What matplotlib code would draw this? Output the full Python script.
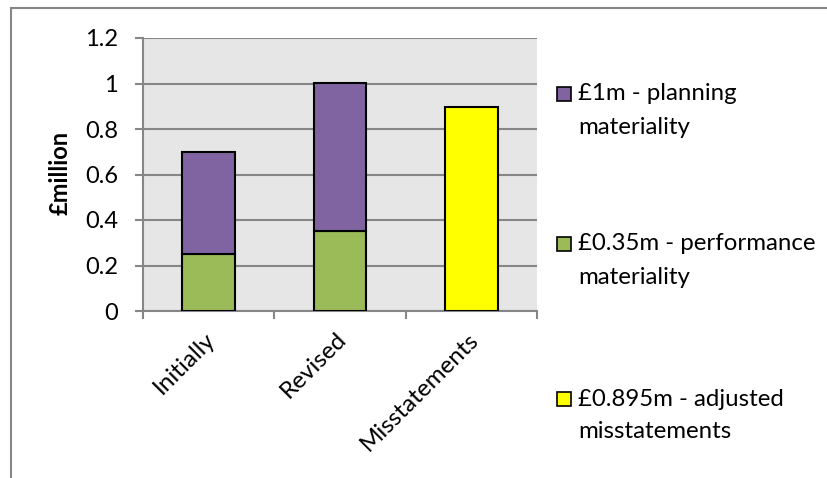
import matplotlib.pyplot as plt
import matplotlib.transforms as mtransforms
from matplotlib.patches import Rectangle
from matplotlib.lines import Line2D

plt.rcParams['font.family'] = ['Lato', 'DejaVu Sans']

# dados
categories = ['Initially', 'Revised', 'Misstatements']
performance = [0.25, 0.35, 0.0]
planning_extra = [0.45, 0.65, 0.0]
misstatements = [0.0, 0.0, 0.895]
legend_labels = ['£1m - planning\nmateriality',
                 '£0.35m - performance\nmateriality',
                 '£0.895m - adjusted\nmisstatements']
yticks = [0, 0.2, 0.4, 0.6, 0.8, 1, 1.2]
ytick_labels = ['0', '0.2', '0.4', '0.6', '0.8', '1', '1.2']

purple = '#8064A2'
green = '#9BBB59'
yellow = '#FFFF00'
grid_c = '#868686'

fig = plt.figure(figsize=(8.27, 4.78), dpi=100)
ax = fig.add_axes([143 / 827, 1 - 311 / 478, (537 - 143) / 827, (311 - 38) / 478])
ax.set_facecolor('#E6E6E6')

x = list(range(len(categories)))
ax.bar(x, performance, width=0.4, color=green, edgecolor='black', linewidth=1.5, zorder=3)
ax.bar(x, planning_extra, width=0.4, bottom=performance, color=purple,
       edgecolor='black', linewidth=1.5, zorder=3)
ax.bar(x[2], misstatements[2], width=0.4, color=yellow, edgecolor='black',
       linewidth=1.5, zorder=3)

ax.set_xlim(-0.5, 2.5)
ax.set_ylim(0, 1.2)
ax.set_yticks(yticks)
ax.set_yticklabels(ytick_labels)
ax.yaxis.grid(True, color=grid_c, linewidth=1.5, zorder=0)
ax.set_axisbelow(True)

# ticks do eixo x nas fronteiras das categorias
ax.set_xticks([-0.5, 0.5, 1.5, 2.5])
ax.set_xticklabels([])
ax.set_xticks(x, minor=True)
ax.set_xticklabels(categories, minor=True, rotation=45, ha='right',
                   rotation_mode='anchor', fontsize=17.5)
ax.tick_params(axis='x', which='minor', length=0, pad=9)
ax.tick_params(axis='x', which='major', length=6, width=1.5, color=grid_c)
ax.tick_params(axis='y', length=6, width=1.5, color=grid_c, labelsize=17, pad=12)

# pequeno deslocamento dos rótulos x (esquerda e para baixo)
shift = mtransforms.ScaledTranslation(-4 / 100, -5 / 100, fig.dpi_scale_trans)
for lbl in ax.get_xticklabels(minor=True):
    lbl.set_transform(lbl.get_transform() + shift)

for s in ['top', 'right']:
    ax.spines[s].set_visible(False)
for s in ['left', 'bottom']:
    ax.spines[s].set_color(grid_c)
    ax.spines[s].set_linewidth(1.5)

ax.set_ylabel('£million', fontsize=17, fontweight='bold')
ax.yaxis.set_label_coords(-0.18, 0.505)

# legenda manual (quadrado alinhado com a primeira linha)
leg_colors = [purple, green, yellow]
leg_y = [94, 244, 399]
for lab, c, yy in zip(legend_labels, leg_colors, leg_y):
    fig.patches.append(Rectangle((557 / 827, 1 - (yy + 7) / 478), 14 / 827, 14 / 478,
                                 transform=fig.transFigure, facecolor=c,
                                 edgecolor='black', linewidth=1.2))
    for i, line in enumerate(lab.split('\n')):
        fig.text(578 / 827, 1 - (yy + 33 * i) / 478, line, fontsize=17.3,
                 va='center', ha='left')

# borda da área do gráfico (recortada)
fig.add_artist(Line2D([11 / 827, 1], [1 - 8 / 478, 1 - 8 / 478], color=grid_c, linewidth=1.5))
fig.add_artist(Line2D([11 / 827, 11 / 827], [0, 1 - 8 / 478], color=grid_c, linewidth=1.5))

plt.savefig('out.png', dpi=100)
